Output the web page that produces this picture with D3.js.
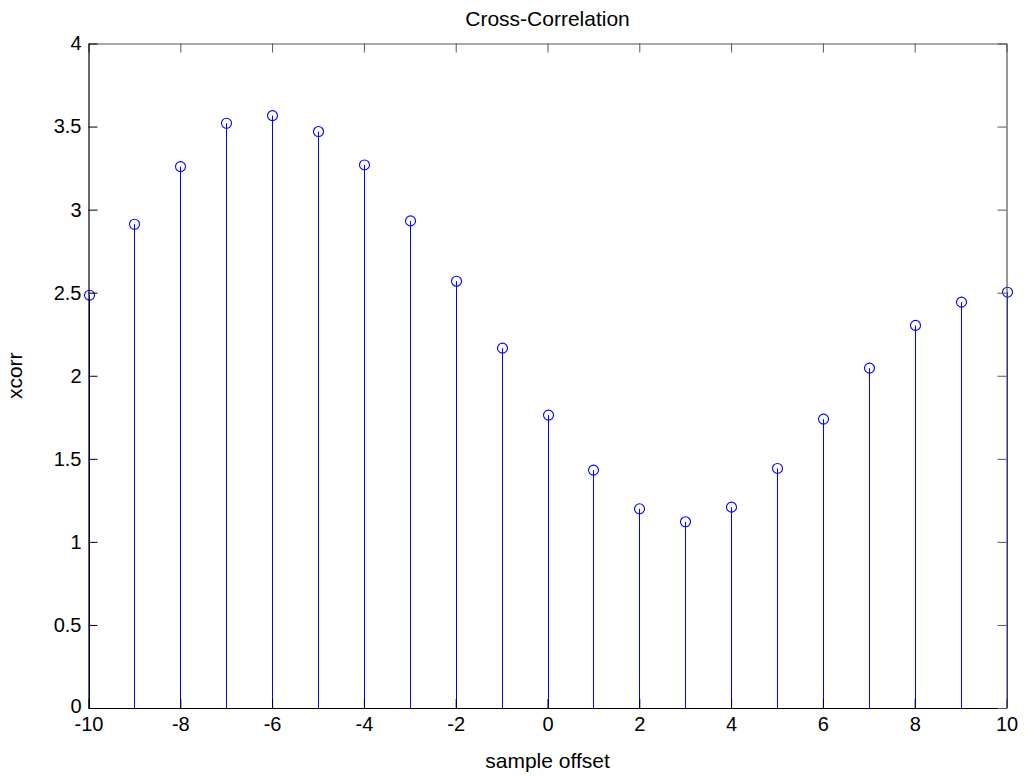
<!DOCTYPE html>
<html>
<head>
<meta charset="utf-8">
<script src="https://cdn.jsdelivr.net/npm/d3@7"></script>
<style>
  body { margin: 0; background: #fff; }
  svg { display: block; font-family: "Liberation Sans", Arial, sans-serif; }
</style>
</head>
<body>
<div id="chart"></div>
<script>
// Data: sample offsets (lags) and cross-correlation values
const lags = [-10, -9, -8, -7, -6, -5, -4, -3, -2, -1, 0, 1, 2, 3, 4, 5, 6, 7, 8, 9, 10];
const xcorrValues = [2.485, 2.912, 3.259, 3.520, 3.566, 3.470, 3.269, 2.932, 2.569, 2.166, 1.763,
                     1.432, 1.199, 1.121, 1.209, 1.442, 1.739, 2.046, 2.303, 2.443, 2.503];
const xTicks = [-10, -8, -6, -4, -2, 0, 2, 4, 6, 8, 10];
const yTicks = [0, 0.5, 1, 1.5, 2, 2.5, 3, 3.5, 4];

const width = 1025;
const height = 777;
const marginLeft = 88.5;
const marginRight = 18.5;
const marginTop = 43.5;
const marginBottom = 69;
const tickLen = 9;
const fontSize = 21;
const tickFontSize = 20;

const data = lags.map((l, i) => [l, xcorrValues[i]]);

const x = d3.scaleLinear([-10, 10], [marginLeft, width - marginRight]);
const y = d3.scaleLinear([0, 4], [height - marginBottom, marginTop]);

const svg = d3.create("svg")
    .attr("width", width)
    .attr("height", height);

// Stems
svg.append("g")
    .selectAll("line")
    .data(data)
    .join("line")
    .attr("x1", d => Math.round(x(d[0])) + 0.5)
    .attr("x2", d => Math.round(x(d[0])) + 0.5)
    .attr("y1", y(0))
    .attr("y2", d => y(d[1]))
    .attr("stroke", "#0000ff")
    .attr("stroke-width", 1);

// Markers
svg.append("g")
    .selectAll("circle")
    .data(data)
    .join("circle")
    .attr("cx", d => Math.round(x(d[0])) + 0.5)
    .attr("cy", d => y(d[1]))
    .attr("r", 5)
    .attr("fill", "none")
    .attr("stroke", "#0000ff")
    .attr("stroke-width", 1.1);

// Axes (box with inward ticks)
const fmt = d => String(d);

const bottomAxis = svg.append("g")
    .attr("transform", `translate(0,${y(0)})`)
    .call(d3.axisBottom(x).tickValues(xTicks).tickFormat(fmt).tickSizeInner(-tickLen).tickSizeOuter(0).tickPadding(9));

const topAxis = svg.append("g")
    .attr("transform", `translate(0,${y(4)})`)
    .call(d3.axisTop(x).tickValues(xTicks).tickSizeInner(-tickLen).tickSizeOuter(0));
topAxis.selectAll(".tick text").remove();

const leftAxis = svg.append("g")
    .attr("transform", `translate(${x(-10)},0)`)
    .call(d3.axisLeft(y).tickValues(yTicks).tickFormat(fmt).tickSizeInner(-tickLen).tickSizeOuter(0).tickPadding(7));

const rightAxis = svg.append("g")
    .attr("transform", `translate(${x(10)},0)`)
    .call(d3.axisRight(y).tickValues(yTicks).tickSizeInner(-tickLen).tickSizeOuter(0));
rightAxis.selectAll(".tick text").remove();

// lift the "0" label a little so it clears the x labels
leftAxis.selectAll(".tick").filter(d => d === 0).select("text").attr("dy", "0.2em");

[bottomAxis, leftAxis].forEach(a => {
    a.attr("font-size", tickFontSize).attr("font-family", "Liberation Sans, Arial, sans-serif");
    a.select(".domain").attr("stroke", "#000").attr("stroke-width", 1.2);
    a.selectAll(".tick line").attr("stroke", "#000");
    a.selectAll(".tick text").attr("fill", "#000");
});
[topAxis, rightAxis].forEach(a => {
    a.select(".domain").attr("stroke", "#555").attr("stroke-width", 1.2);
    a.selectAll(".tick line").attr("stroke", "#555");
});

// Title and labels
svg.append("text")
    .text("Cross-Correlation")
    .attr("x", (marginLeft + width - marginRight) / 2)
    .attr("y", 26)
    .attr("text-anchor", "middle")
    .attr("font-size", fontSize);

svg.append("text")
    .text("sample offset")
    .attr("x", (marginLeft + width - marginRight) / 2)
    .attr("y", 768)
    .attr("text-anchor", "middle")
    .attr("font-size", fontSize);

svg.append("text")
    .text("xcorr")
    .attr("transform", `translate(22,${(marginTop + height - marginBottom) / 2}) rotate(-90)`)
    .attr("text-anchor", "middle")
    .attr("font-size", fontSize);

document.getElementById("chart").append(svg.node());
</script>
</body>
</html>
